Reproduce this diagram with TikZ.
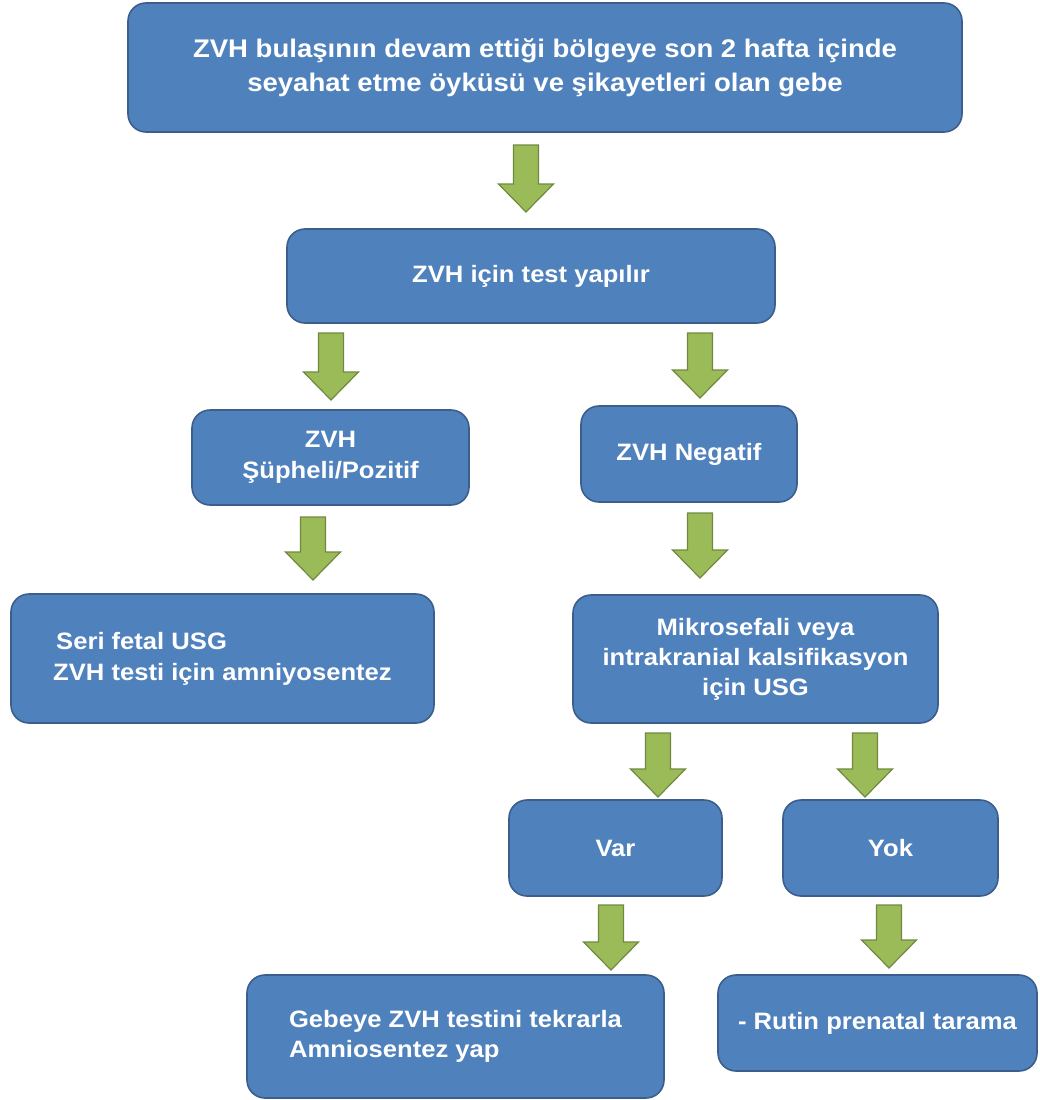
\documentclass[tikz,border=0pt]{standalone}
\usepackage{fontspec}
\setmainfont{Liberation Sans}[FakeStretch=1.08]
\definecolor{boxfill}{HTML}{4F81BD}
\definecolor{boxline}{HTML}{3B5E8C}
\definecolor{arrfill}{HTML}{9BBB59}
\definecolor{arrline}{HTML}{71893F}
\tikzset{
  box/.style={draw=boxline, line width=1.6pt, fill=boxfill, rounded corners=18pt,
    text=white, font=\fontsize{23.7}{31}\selectfont\bfseries, align=center, inner sep=0pt},
  garrowstyle/.style={draw=arrline, line width=1.2pt, fill=arrfill, line join=miter}
}
\newcommand\garrow[4]{% name, cx, ytop, ytip
  \coordinate (#1) at (#2,#3);
  \draw[garrowstyle] ([xshift=-12.5pt]#1) -- ([xshift=12.5pt]#1) -- ([xshift=12.5pt]#2,#4-28)
    -- ([xshift=27.5pt]#2,#4-28) -- (#2,#4) -- ([xshift=-27.5pt]#2,#4-28) -- ([xshift=-12.5pt]#2,#4-28) -- cycle;}
\begin{document}
\begin{tikzpicture}[x=1pt,y=-1pt]
\useasboundingbox (0,0) rectangle (1039,1100);
\node[box, minimum width=834pt, minimum height=129pt, font=\fontsize{25.5}{34}\selectfont\bfseries] (top) at (545,67.5)
  {ZVH bulaşının devam ettiği bölgeye son 2 hafta içinde\\seyahat etme öyküsü ve şikayetleri olan gebe};
\node[box, minimum width=488pt, minimum height=94pt] (test) at (531,276) {ZVH için test yapılır};
\node[box, minimum width=277pt, minimum height=95pt] (poz) at (330.5,457.5) {ZVH\\Şüpheli/Pozitif};
\node[box, minimum width=216pt, minimum height=96pt] (neg) at (689,454) {ZVH Negatif};
\node[box, minimum width=423pt, minimum height=129pt, align=left] (seri) at (222.5,658.5)
  {\hspace*{3pt}Seri fetal USG\\ZVH testi için amniyosentez};
\node[box, minimum width=365pt, minimum height=128pt, font=\fontsize{23.7}{30}\selectfont\bfseries] (mikro) at (755.5,659)
  {Mikrosefali veya\\intrakranial kalsifikasyon\\için USG};
\node[box, minimum width=213pt, minimum height=96pt] (var) at (615.5,848) {Var};
\node[box, minimum width=215pt, minimum height=96pt] (yok) at (890.5,848) {Yok};
\node[box, minimum width=417pt, minimum height=123pt, align=left, font=\fontsize{23.7}{30}\selectfont\bfseries] (gebe) at (455.5,1036.5)
  {Gebeye ZVH testini tekrarla\\Amniosentez yap};
\node[box, minimum width=319pt, minimum height=96pt] (rutin) at (877.5,1023) {- Rutin prenatal tarama};
\garrow{a1}{526}{145}{212}
\garrow{a2}{331}{333}{400}
\garrow{a3}{700}{333}{398}
\garrow{a4}{313}{517}{580}
\garrow{a5}{700}{513}{578}
\garrow{a6}{658}{733}{797}
\garrow{a7}{865}{733}{797}
\garrow{a8}{611}{905}{970}
\garrow{a9}{889}{905}{968}
\end{tikzpicture}
\end{document}
